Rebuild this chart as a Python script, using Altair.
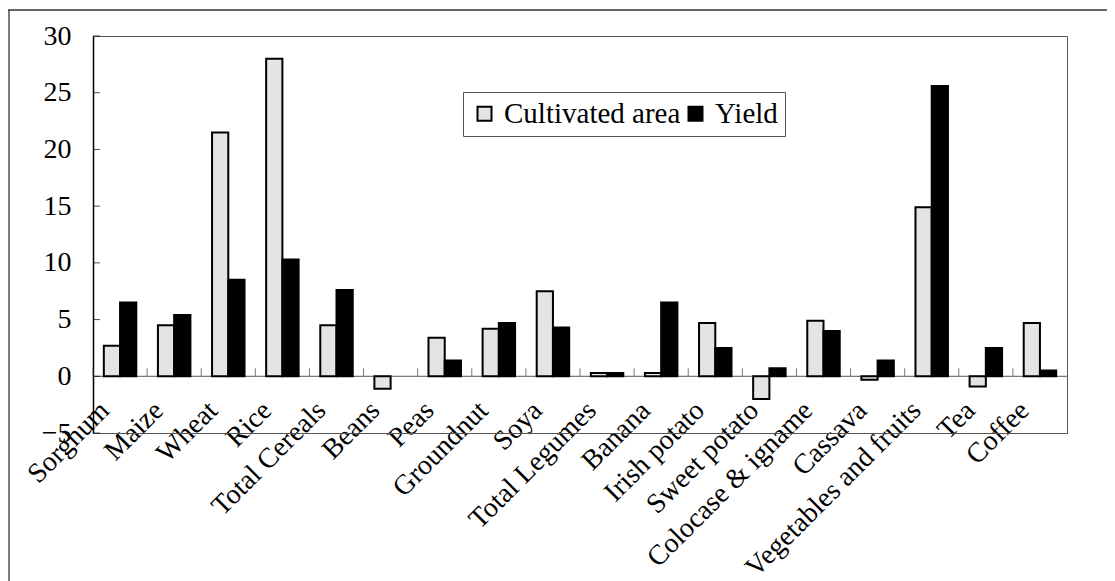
import altair as alt
import pandas as pd

categories = ["Sorghum", "Maize", "Wheat", "Rice", "Total Cereals", "Beans", "Peas",
              "Groundnut", "Soya", "Total Legumes", "Banana", "Irish potato",
              "Sweet potato", "Colocase & igname", "Cassava", "Vegetables and fruits",
              "Tea", "Coffee"]
cultivated_area = [2.7, 4.5, 21.5, 28.0, 4.5, -1.1, 3.4, 4.2, 7.5, 0.3, 0.3, 4.7,
                   -2.0, 4.9, -0.3, 14.9, -0.9, 4.7]
yield_values = [6.5, 5.4, 8.5, 10.3, 7.6, 0.0, 1.4, 4.7, 4.3, 0.3, 6.5, 2.5,
                0.7, 4.0, 1.4, 25.6, 2.5, 0.5]
series = ["Cultivated area", "Yield"]
y_ticks = [-5, 0, 5, 10, 15, 20, 25, 30]

FONT = "Liberation Serif"

rows = []
for c, a, yv in zip(categories, cultivated_area, yield_values):
    rows.append({"category": c, "series": series[0], "value": a})
    rows.append({"category": c, "series": series[1], "value": yv})
df = pd.DataFrame(rows)
cat_df = pd.DataFrame({"category": categories})
ytick_df = pd.DataFrame({"t": y_ticks})
one = pd.DataFrame({"k": [0]})

y_scale = alt.Scale(domain=[-5, 30], nice=False, zero=False)
x_scale = alt.Scale(paddingInner=0.4, paddingOuter=0.2)

bars = alt.Chart(df).transform_filter("datum.value != 0").mark_bar(
    stroke="black", strokeWidth=2
).encode(
    x=alt.X("category:N", sort=categories, scale=x_scale,
            axis=alt.Axis(title=None, labelAngle=-45, labelAlign="right",
                          labelBaseline="middle", labelPadding=-27, labelOffset=-15,
                          ticks=False, domainColor="#555", domainWidth=1,
                          labelFont=FONT, labelFontSize=28, labelColor="black",
                          labelLimit=600, labelOverlap=False, labelBound=False,
                          grid=False)),
    xOffset=alt.XOffset("series:N", sort=series,
                        scale=alt.Scale(paddingInner=0, paddingOuter=0)),
    y=alt.Y("value:Q", scale=y_scale,
            axis=alt.Axis(title=None, values=y_ticks, ticks=False,
                          domainColor="black", domainWidth=1.5, labelPadding=22,
                          labelFont=FONT, labelFontSize=28, labelColor="black",
                          grid=False)),
    color=alt.Color("series:N", sort=series,
                    scale=alt.Scale(domain=series, range=["#e4e4e4", "black"]),
                    legend=alt.Legend(title=None, orient="none", legendX=370, legendY=56,
                                      direction="horizontal", strokeColor="#555",
                                      fillColor="white", padding=7,
                                      symbolType="square", symbolSize=196,
                                      symbolStrokeColor="black", symbolStrokeWidth=2,
                                      labelFont=FONT, labelFontSize=29,
                                      labelColor="black", labelOffset=5,
                                      labelLimit=400, columnPadding=0))
)

zero_line = alt.Chart(one).mark_rule(color="#555", strokeWidth=1).encode(
    y=alt.datum(0, scale=y_scale)
)

# small tick marks on the zero line, at the category boundaries
cat_ticks = alt.Chart(cat_df).mark_tick(
    orient="vertical", size=8, thickness=1, color="#444", xOffset=-10.82, yOffset=-4
).encode(
    x=alt.X("category:N", sort=categories, bandPosition=0),
    y=alt.datum(0, scale=y_scale),
)

# inward ticks on the value axis
y_inner_ticks = alt.Chart(ytick_df).mark_tick(
    orient="horizontal", size=7, thickness=1, color="black"
).encode(
    y=alt.Y("t:Q", scale=y_scale),
    x=alt.value(3.5),
)

frame_top = alt.Chart(one).mark_rule(color="#333", strokeWidth=1.3).encode(
    x=alt.value(-85), x2=alt.value(1100), y=alt.value(-26)
)
frame_left = alt.Chart(one).mark_rule(color="#333", strokeWidth=1.3).encode(
    x=alt.value(-84), y=alt.value(-26), y2=alt.value(700)
)

chart = alt.layer(frame_top, frame_left, zero_line, bars, cat_ticks, y_inner_ticks).properties(
    width=974, height=397,
    padding={"left": 85, "top": 28, "right": 40, "bottom": 148},
    autosize=alt.AutoSizeParams(type="none"),
).configure_view(stroke="#555", strokeWidth=1)

chart.save("out.html", embed_options={"renderer": "svg", "actions": False})
